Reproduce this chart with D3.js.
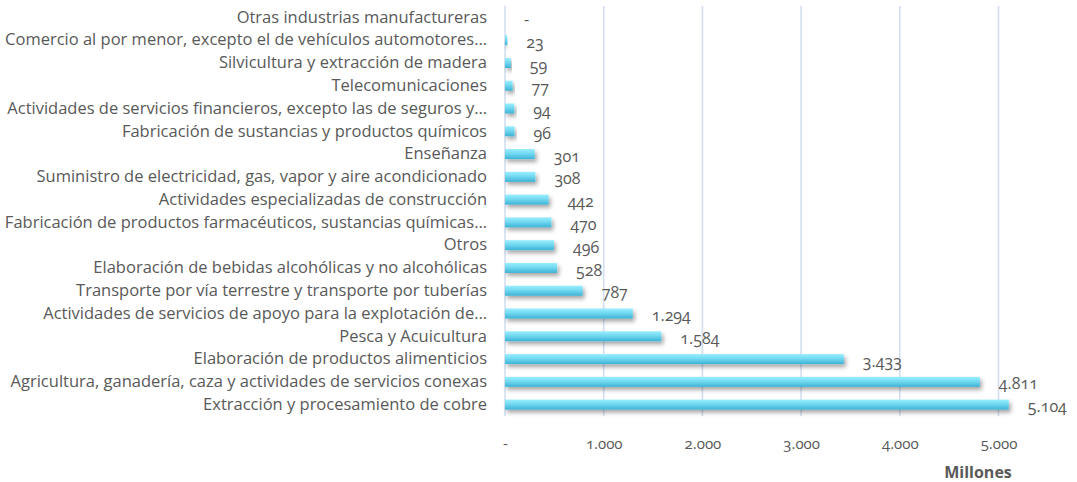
<!DOCTYPE html>
<html>
<head>
<meta charset="utf-8">
<script src="https://cdn.jsdelivr.net/npm/d3@7/dist/d3.min.js"></script>
<style>
  html, body { margin: 0; padding: 0; background: #fff; }
  svg { display: block; }
  .num { font-variant-numeric: oldstyle-nums; font-feature-settings: "onum" 1; }
</style>
</head>
<body>
<svg id="chart" width="1077" height="482"></svg>
<script>
// Sectors, listed top to bottom
const categories = [
  "Otras industrias manufactureras",
  "Comercio al por menor, excepto el de vehículos automotores…",
  "Silvicultura y extracción de madera",
  "Telecomunicaciones",
  "Actividades de servicios financieros, excepto las de seguros y…",
  "Fabricación de sustancias y productos químicos",
  "Enseñanza",
  "Suministro de electricidad, gas, vapor y aire acondicionado",
  "Actividades especializadas de construcción",
  "Fabricación de productos farmacéuticos, sustancias químicas…",
  "Otros",
  "Elaboración de bebidas alcohólicas y no alcohólicas",
  "Transporte por vía terrestre y transporte por tuberías",
  "Actividades de servicios de apoyo para la explotación de…",
  "Pesca y Acuicultura",
  "Elaboración de productos alimenticios",
  "Agricultura, ganadería, caza y actividades de servicios conexas",
  "Extracción y procesamiento de cobre"
];
// Amount in millions
const values = [0, 23, 59, 77, 94, 96, 301, 308, 442, 470, 496, 528, 787, 1294, 1584, 3433, 4811, 5104];
const xTicks = [0, 1000, 2000, 3000, 4000, 5000];
const axisTitle = "Millones";

const svg = d3.select("#chart");
const font = "'Open Sans', Lato, sans-serif";
const textColor = "#595959";

const plotLeft = 505, plotRight = 998.5, plotTop = 6, plotBottom = 416;
const x = d3.scaleLinear().domain([0, 5000]).range([plotLeft, plotRight]);
const y = d3.scaleBand().domain(categories).range([plotTop, plotBottom]).paddingInner(0.56).paddingOuter(0.28);

const fmt = v => v === 0 ? "-" : d3.format(",")(v).replace(/,/g, ".");

const defs = svg.append("defs");
const grad = defs.append("linearGradient").attr("id", "barGrad")
  .attr("x1", 0).attr("y1", 0).attr("x2", 0).attr("y2", 1);
grad.append("stop").attr("offset", "0%").attr("stop-color", "#9aeefd");
grad.append("stop").attr("offset", "45%").attr("stop-color", "#72d9f1");
grad.append("stop").attr("offset", "100%").attr("stop-color", "#3db2d5");

const shadow = defs.append("filter").attr("id", "shadow")
  .attr("x", "-10%").attr("y", "-50%").attr("width", "130%").attr("height", "250%");
shadow.append("feDropShadow").attr("dx", 2).attr("dy", 3).attr("stdDeviation", 2)
  .attr("flood-color", "#000").attr("flood-opacity", 0.35);

// Vertical gridlines
svg.append("g").selectAll("line").data(xTicks).join("line")
  .attr("x1", d => x(d)).attr("x2", d => x(d))
  .attr("y1", plotTop).attr("y2", plotBottom)
  .attr("stroke", "#d3dff1").attr("stroke-width", 1.6);

// Bars
svg.append("g").selectAll("rect").data(categories).join("rect")
  .attr("x", x(0))
  .attr("y", d => y(d))
  .attr("width", (d, i) => x(values[i]) - x(0))
  .attr("height", y.bandwidth())
  .attr("fill", "url(#barGrad)")
  .attr("filter", "url(#shadow)");

// Value labels
svg.append("g").selectAll("text").data(categories).join("text")
  .attr("class", "num")
  .attr("x", (d, i) => x(values[i]) + 19)
  .attr("y", d => y(d) + y.bandwidth() / 2 + 2)
  .attr("dy", "0.35em")
  .attr("font-family", font).attr("font-size", 16).attr("fill", textColor)
  .text((d, i) => fmt(values[i]));

// Category labels
const yAxis = d3.axisLeft(y).tickSize(0).tickPadding(18);
const gy = svg.append("g").attr("transform", `translate(${plotLeft},0)`).call(yAxis);
gy.select(".domain").remove();
gy.selectAll("text").attr("font-family", font).attr("font-size", 16.5).attr("fill", textColor);

// X axis tick labels
const xAxis = d3.axisBottom(x).tickValues(xTicks).tickSize(0).tickPadding(0).tickFormat(fmt);
const gx = svg.append("g").attr("transform", `translate(0,${plotBottom + 22})`).call(xAxis);
gx.select(".domain").remove();
gx.selectAll("text").attr("class", "num").attr("font-family", font).attr("font-size", 15).attr("fill", textColor);

svg.append("text")
  .attr("x", 978).attr("y", 478)
  .attr("text-anchor", "middle")
  .attr("font-family", font).attr("font-size", 16).attr("font-weight", "bold")
  .attr("fill", textColor)
  .text(axisTitle);
</script>
</body>
</html>
